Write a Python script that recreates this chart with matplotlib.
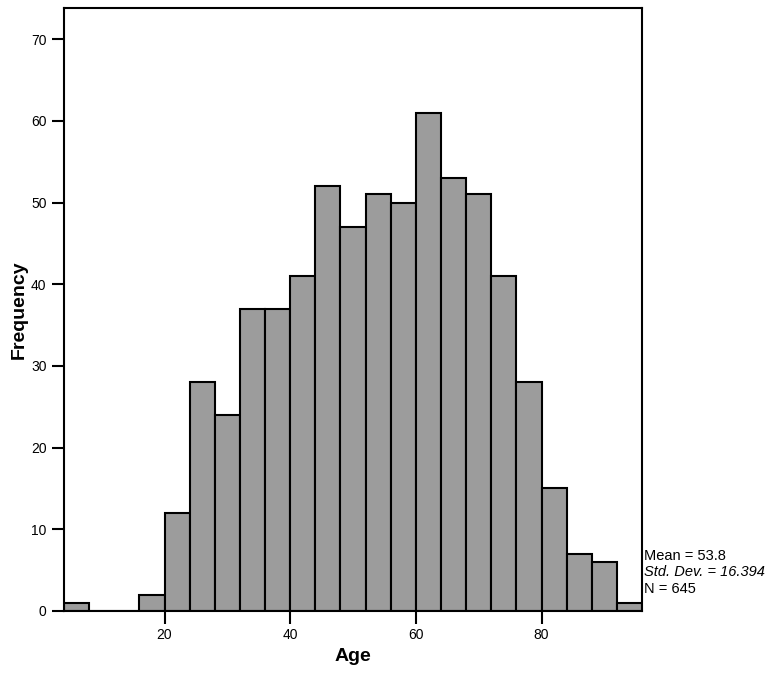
import numpy as np
import matplotlib
matplotlib.use("Agg")
import matplotlib.pyplot as plt

plt.rcParams['font.family'] = ['Liberation Sans', 'DejaVu Sans']

# histogram of age, bins of width 4 from 4 to 96
bin_edges = list(range(4, 97, 4))
counts = [1, 0, 0, 2, 12, 28, 24, 37, 37, 41, 52, 47,
          51, 50, 61, 53, 51, 41, 28, 15, 7, 6, 1]
stats_lines = ["Mean = 53.8", "Std. Dev. = 16.394", "N = 645"]

fig = plt.figure(figsize=(7.68, 6.77), dpi=100)
ax = fig.add_axes([0.0833, 0.0975, 0.7527, 0.8905])

edges = np.array(bin_edges)
ax.bar(edges[:-1], counts, width=np.diff(edges), align='edge',
       color='#9c9c9c', edgecolor='black', linewidth=1.5)

ax.set_xlim(4, 96)
ax.set_ylim(0, 73.8)
ax.set_xticks([20, 40, 60, 80])
ax.set_yticks(range(0, 71, 10))
ax.tick_params(direction='out', length=9, width=1.5, labelsize=10)
for s in ax.spines.values():
    s.set_linewidth(1.5)

ax.set_xlabel('Age', fontsize=14, fontweight='bold', labelpad=4)
ax.set_ylabel('Frequency', fontsize=14, fontweight='bold')
ax.yaxis.set_label_coords(-0.063, 0.5)

ys = [0.091, 0.064, 0.036]
for i, (txt, y) in enumerate(zip(stats_lines, ys)):
    ax.text(1.004, y, txt, transform=ax.transAxes, fontsize=10.5,
            style='italic' if i == 1 else 'normal', va='center', ha='left')

fig.savefig('out.png', dpi=100)
